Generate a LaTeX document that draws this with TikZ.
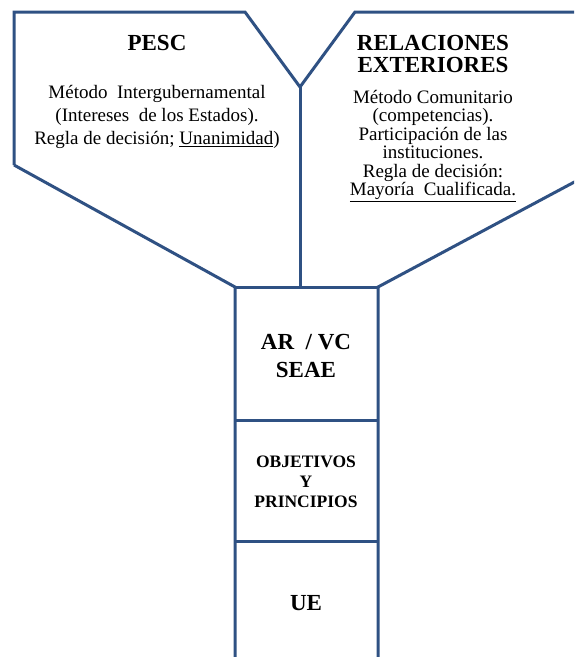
\documentclass[tikz,border=0pt]{standalone}
\usepackage{fontspec}
\setmainfont{Liberation Serif}
\definecolor{marco}{HTML}{2F5183}
\tikzset{
    borde/.style={draw=marco, line width=3pt, line join=miter},
    titulo/.style={font=\fontsize{23}{22}\selectfont\bfseries, align=center},
    texto/.style={font=\fontsize{19}{23}\selectfont, align=center},
}
\begin{document}
\begin{tikzpicture}[x=1pt, y=-1pt]
            \begin{scope}
                \useasboundingbox (0, 0) rectangle (574, 657);
                \clip (0, 0) rectangle (574, 657);

                % forma en Y
                \draw [borde] (14, 165) -- (14, 12) -- (245, 12) -- (300, 87) -- (355, 12) -- (580, 12);
                \draw [borde] (14, 165) -- (235, 287) -- (235, 662);
                \draw [borde] (580, 179) -- (378, 287) -- (378, 662);
                \draw [borde] (300, 87) -- (300, 287);
                \draw [borde] (235, 287) -- (378, 287);
                \draw [borde] (235, 420) -- (378, 420);
                \draw [borde] (235, 541) -- (378, 541);

                \node [titulo] (pesc) at (157, 43) {PESC};
                \node [texto] (pesctxt) at (157, 117) {Método\ \ Intergubernamental\\(Intereses\ \ de los Estados).\\Regla de decisión;\ \underline{Unanimidad})};

                \node [titulo] (relext) at (433, 54) {RELACIONES\\EXTERIORES};
                \node [texto, font=\fontsize{19}{18.5}\selectfont] (relextxt) at (433, 146) {Método Comunitario\\(competencias).\\Participación de las\\instituciones.\\Regla de decisión:\\\underline{Mayoría\ \ Cualificada.}};

                \node [titulo, font=\fontsize{23}{28}\selectfont\bfseries] (arvc) at (306, 356) {AR\ \ / VC\\SEAE};
                \node [titulo, font=\fontsize{17.5}{20}\selectfont\bfseries] (obj) at (306, 482) {OBJETIVOS\\Y\\PRINCIPIOS};
                \node [titulo] (ue) at (306, 603) {UE};

            \end{scope}
        \end{tikzpicture}
\end{document}
